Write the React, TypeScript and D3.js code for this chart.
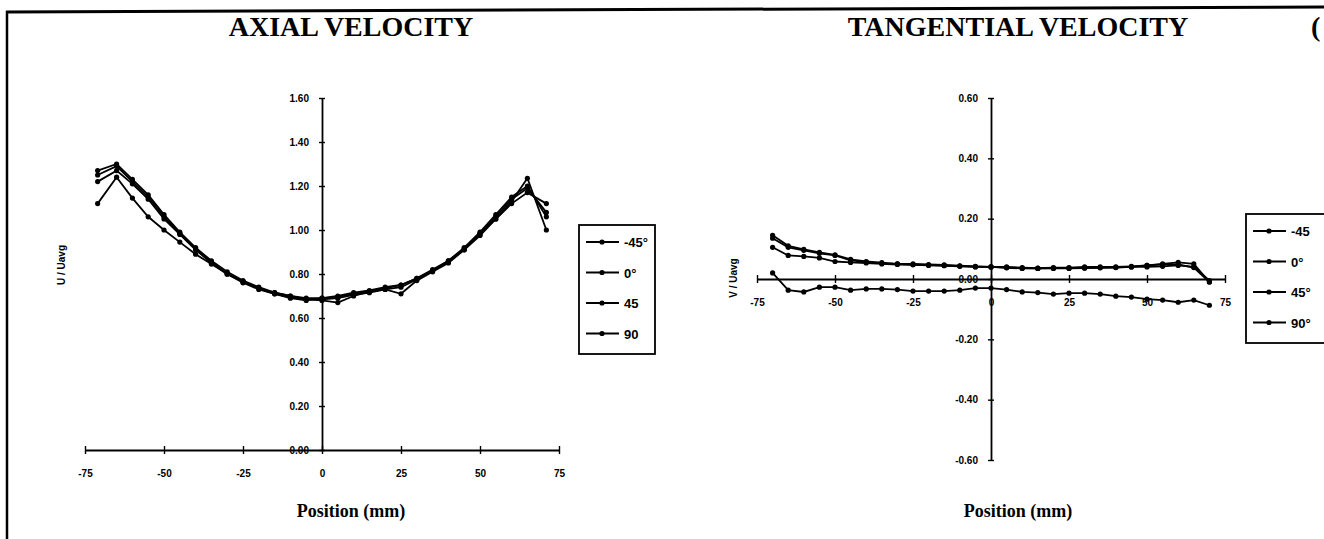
import React, { useEffect, useRef } from 'react';
import * as d3 from 'd3';

// positions along the pipe diameter (mm)
const axialPos = [-71, -65, -60, -55, -50, -45, -40, -35, -30, -25, -20, -15, -10, -5, 0, 5, 10, 15, 20, 25, 30, 35, 40, 45, 50, 55, 60, 65, 71];
const tangPos = [-70, -65, -60, -55, -50, -45, -40, -35, -30, -25, -20, -15, -10, -5, 0, 5, 10, 15, 20, 25, 30, 35, 40, 45, 50, 55, 60, 65, 70];

// U / Uavg
const axialM45 = [1.27, 1.3, 1.23, 1.16, 1.07, 0.99, 0.92, 0.86, 0.81, 0.77, 0.74, 0.715, 0.7, 0.685, 0.68, 0.67, 0.7, 0.72, 0.735, 0.75, 0.78, 0.82, 0.86, 0.92, 0.99, 1.07, 1.15, 1.2, 1.06];
const axial0 = [1.25, 1.29, 1.22, 1.15, 1.06, 0.985, 0.915, 0.855, 0.8, 0.765, 0.735, 0.71, 0.695, 0.685, 0.685, 0.69, 0.705, 0.715, 0.73, 0.74, 0.775, 0.815, 0.86, 0.915, 0.985, 1.06, 1.14, 1.19, 1.08];
const axial45 = [1.22, 1.27, 1.21, 1.14, 1.05, 0.98, 0.91, 0.85, 0.8, 0.76, 0.73, 0.71, 0.69, 0.68, 0.69, 0.695, 0.71, 0.72, 0.73, 0.71, 0.77, 0.81, 0.85, 0.91, 0.98, 1.05, 1.13, 1.235, 1.0];
const axial90 = [1.12, 1.24, 1.145, 1.06, 1.0, 0.945, 0.89, 0.845, 0.8, 0.765, 0.735, 0.715, 0.7, 0.69, 0.69, 0.7, 0.715, 0.725, 0.74, 0.75, 0.78, 0.815, 0.855, 0.91, 0.975, 1.05, 1.12, 1.17, 1.12];

// V / Uavg
const tangM45 = [0.145, 0.11, 0.098, 0.088, 0.08, 0.065, 0.058, 0.054, 0.05, 0.05, 0.048, 0.047, 0.044, 0.042, 0.04, 0.04, 0.038, 0.036, 0.038, 0.038, 0.04, 0.04, 0.04, 0.042, 0.045, 0.05, 0.055, 0.05, -0.01];
const tang0 = [0.135, 0.105, 0.095, 0.085, 0.078, 0.062, 0.056, 0.052, 0.05, 0.048, 0.046, 0.045, 0.043, 0.041, 0.04, 0.038, 0.036, 0.035, 0.036, 0.036, 0.037, 0.038, 0.039, 0.04, 0.04, 0.042, 0.045, 0.04, -0.005];
const tang45 = [0.105, 0.078, 0.075, 0.07, 0.058, 0.055, 0.053, 0.05, 0.048, 0.047, 0.045, 0.044, 0.042, 0.04, 0.04, 0.037, 0.035, 0.035, 0.035, 0.035, 0.036, 0.037, 0.038, 0.04, 0.045, 0.048, 0.048, 0.038, -0.01];
const tang90 = [0.02, -0.037, -0.043, -0.027, -0.027, -0.037, -0.033, -0.033, -0.035, -0.04, -0.04, -0.04, -0.037, -0.03, -0.03, -0.035, -0.043, -0.045, -0.05, -0.047, -0.047, -0.05, -0.057, -0.06, -0.067, -0.07, -0.077, -0.07, -0.087];

const axialLegend = ['-45°', '0°', '45', '90'];
const tangLegend = ['-45', '0°', '45°', '90°'];

const xTicks = [-75, -50, -25, 0, 25, 50, 75];
const axialTicks = [0, 0.2, 0.4, 0.6, 0.8, 1.0, 1.2, 1.4, 1.6];
const tangTicks = [-0.6, -0.4, -0.2, 0, 0.2, 0.4, 0.6];

const SANS = 'Liberation Sans, Arial, sans-serif';
const SERIF = 'Liberation Serif, Times New Roman, serif';

const drawPanel = (svg, cfg) => {
  const { x, y, pos, series, yTicks, title, titleX, yLabel, yLabelX, legend, legendBox } = cfg;
  const g = svg.append('g');
  const x0 = x(0);
  const y0 = y(0);

  g.append('text')
    .attr('x', titleX)
    .attr('y', 36)
    .attr('text-anchor', 'middle')
    .attr('font-family', SERIF)
    .attr('font-weight', 'bold')
    .attr('font-size', 28)
    .text(title);

  // x axis through y = 0
  const xAxis = g
    .append('g')
    .attr('transform', `translate(0, ${y0})`)
    .call(d3.axisBottom(x).tickValues(xTicks).tickSizeOuter(0).tickPadding(14).tickFormat(d => `${d}`));
  xAxis.select('.domain').attr('stroke-width', 1.8);
  xAxis.selectAll('.tick line').attr('y1', -4).attr('y2', 4).attr('stroke-width', 1.4);
  xAxis
    .selectAll('.tick text')
    .attr('font-family', SANS)
    .attr('font-weight', 'bold')
    .attr('font-size', 10);

  // y axis through x = 0
  const yAxis = g
    .append('g')
    .attr('transform', `translate(${x0}, 0)`)
    .call(d3.axisLeft(y).tickValues(yTicks).tickSizeOuter(0).tickPadding(7).tickFormat(d => d.toFixed(2)));
  yAxis.select('.domain').attr('stroke-width', 1.8);
  yAxis.selectAll('.tick line').attr('x1', -3).attr('x2', 3).attr('stroke-width', 1.4);
  yAxis
    .selectAll('.tick text')
    .attr('font-family', SANS)
    .attr('font-weight', 'bold')
    .attr('font-size', 10);

  const line = d3
    .line()
    .x((d, i) => x(pos[i]))
    .y(d => y(d));

  series.forEach(values => {
    g.append('path')
      .datum(values)
      .attr('d', line)
      .attr('fill', 'none')
      .attr('stroke', '#000')
      .attr('stroke-width', 1.8);
    g.selectAll(null)
      .data(values)
      .enter()
      .append('circle')
      .attr('cx', (d, i) => x(pos[i]))
      .attr('cy', d => y(d))
      .attr('r', 2.6)
      .attr('fill', '#000');
  });

  g.append('text')
    .attr('transform', `translate(${yLabelX}, ${cfg.yLabelY}) rotate(-90)`)
    .attr('text-anchor', 'middle')
    .attr('font-family', SANS)
    .attr('font-weight', 'bold')
    .attr('font-size', 10)
    .text(yLabel);

  g.append('text')
    .attr('x', titleX)
    .attr('y', 517)
    .attr('text-anchor', 'middle')
    .attr('font-family', SERIF)
    .attr('font-weight', 'bold')
    .attr('font-size', 18)
    .text('Position (mm)');

  // legend
  const lg = g.append('g');
  lg.append('rect')
    .attr('x', legendBox.x)
    .attr('y', legendBox.y)
    .attr('width', legendBox.w)
    .attr('height', legendBox.h)
    .attr('fill', '#fff')
    .attr('stroke', '#000')
    .attr('stroke-width', 1.8);
  legend.forEach((label, i) => {
    const ly = legendBox.y + 17 + i * 30.5;
    const lx = legendBox.x + 7;
    lg.append('line')
      .attr('x1', lx)
      .attr('x2', lx + 33)
      .attr('y1', ly)
      .attr('y2', ly)
      .attr('stroke', '#000')
      .attr('stroke-width', 2);
    lg.append('circle').attr('cx', lx + 16).attr('cy', ly).attr('r', 2.6).attr('fill', '#000');
    lg.append('text')
      .attr('x', lx + 38)
      .attr('y', ly + 5)
      .attr('font-family', SANS)
      .attr('font-weight', 'bold')
      .attr('font-size', 13)
      .text(label);
  });
};

export default function App() {
  const svgRef = useRef(null);

  useEffect(() => {
    const svg = d3.select(svgRef.current);
    svg.selectAll('*').remove();

    // page frame (scanned, slightly tilted)
    svg.append('line').attr('x1', 6).attr('x2', 1324).attr('y1', 12).attr('y2', 7).attr('stroke', '#000').attr('stroke-width', 3);
    svg.append('line').attr('x1', 7).attr('x2', 7).attr('y1', 11).attr('y2', 539).attr('stroke', '#000').attr('stroke-width', 2.5);

    drawPanel(svg, {
      x: d3.scaleLinear().domain([-75, 75]).range([85, 559]),
      y: d3.scaleLinear().domain([0, 1.6]).range([450, 98]),
      pos: axialPos,
      series: [axialM45, axial0, axial45, axial90],
      yTicks: axialTicks,
      title: 'AXIAL VELOCITY',
      titleX: 351,
      yLabel: 'U / Uavg',
      yLabelX: 65,
      yLabelY: 265,
      legend: axialLegend,
      legendBox: { x: 579, y: 225, w: 76, h: 129 }
    });

    drawPanel(svg, {
      x: d3.scaleLinear().domain([-75, 75]).range([757, 1225]),
      y: d3.scaleLinear().domain([-0.6, 0.6]).range([460, 98]),
      pos: tangPos,
      series: [tangM45, tang0, tang45, tang90],
      yTicks: tangTicks,
      title: 'TANGENTIAL VELOCITY',
      titleX: 1018,
      yLabel: 'V / Uavg',
      yLabelX: 737,
      yLabelY: 278,
      legend: tangLegend,
      legendBox: { x: 1246, y: 214, w: 90, h: 129 }
    });

    svg.append('text')
      .attr('x', 1311)
      .attr('y', 36)
      .attr('font-family', SERIF)
      .attr('font-weight', 'bold')
      .attr('font-size', 28)
      .text('(');
  }, []);

  return (
    <div>
      <svg
        ref={svgRef}
        width={1324}
        height={539}
        style={{ position: 'absolute', left: 0, top: 0, background: '#fff' }}
      />
    </div>
  );
}
